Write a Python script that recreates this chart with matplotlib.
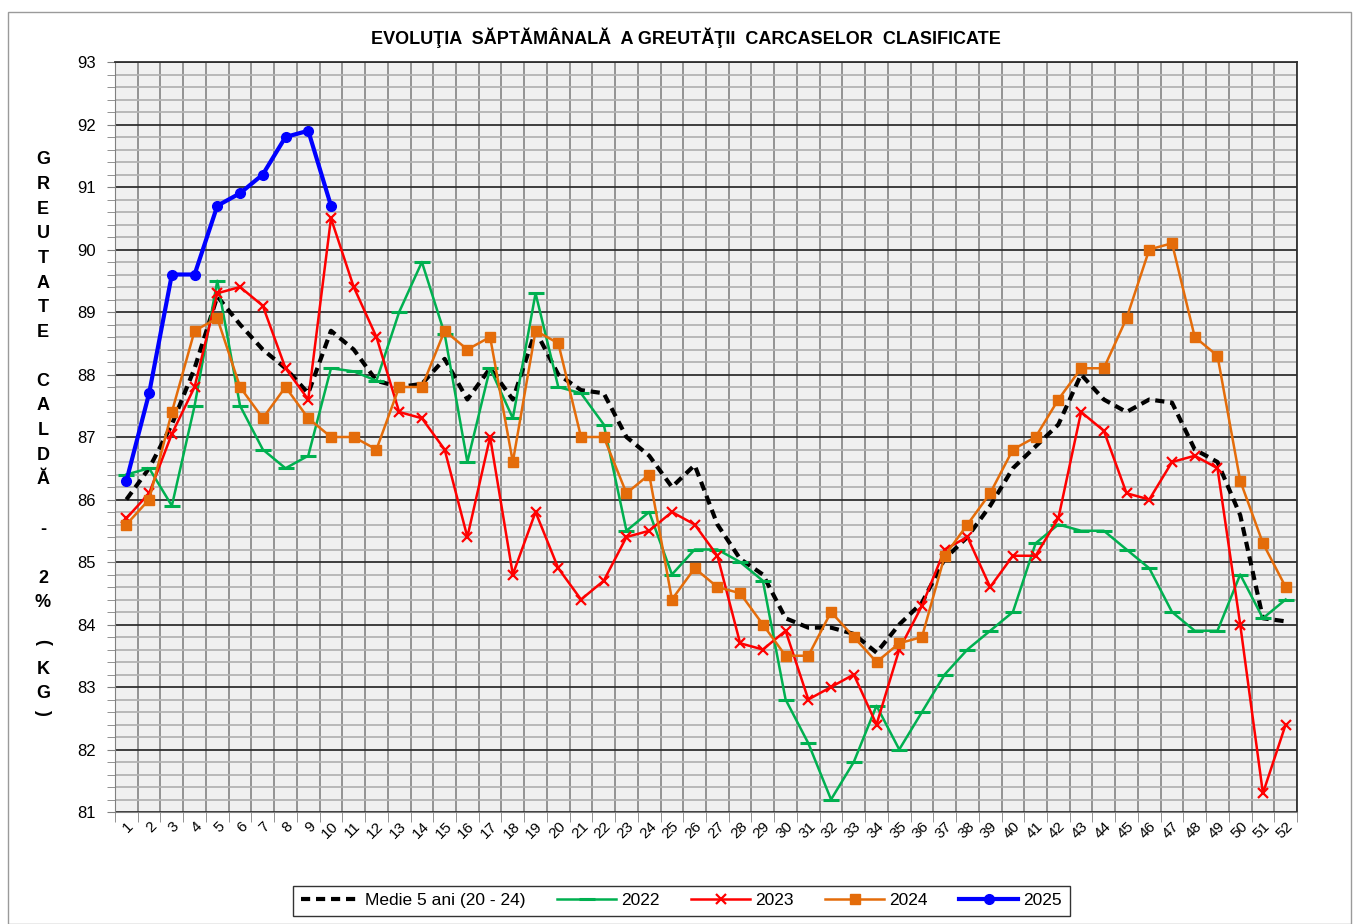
import matplotlib
matplotlib.use("Agg")
import matplotlib.pyplot as plt
from matplotlib.ticker import MultipleLocator, FixedLocator
from matplotlib.patches import Rectangle

plt.rcParams["font.family"] = ["Liberation Sans", "DejaVu Sans"]

# -- data --
weeks = list(range(1, 53))
medie = [86.0, 86.5, 87.2, 88.1, 89.25, 88.8, 88.4, 88.1, 87.7, 88.7,
         88.4, 87.9, 87.8, 87.85, 88.25, 87.6, 88.1, 87.6, 88.7, 88.0,
         87.75, 87.7, 87.0, 86.7, 86.2, 86.55, 85.6, 85.05, 84.8, 84.1,
         83.95, 83.95, 83.85, 83.55, 84.0, 84.35, 85.05, 85.4, 85.9, 86.5,
         86.85, 87.2, 88.0, 87.6, 87.4, 87.6, 87.55, 86.8, 86.6, 85.75,
         84.1, 84.05]
y2022 = [86.4, 86.5, 85.9, 87.5, 89.5, 87.5, 86.8, 86.5, 86.7, 88.1,
         88.05, 87.9, 89.0, 89.8, 88.65, 86.6, 88.1, 87.3, 89.3, 87.8,
         87.7, 87.2, 85.5, 85.8, 84.8, 85.2, 85.2, 85.0, 84.7, 82.8,
         82.1, 81.2, 81.8, 82.7, 82.0, 82.6, 83.2, 83.6, 83.9, 84.2,
         85.3, 85.6, 85.5, 85.5, 85.2, 84.9, 84.2, 83.9, 83.9, 84.8,
         84.1, 84.4]
y2023 = [85.7, 86.1, 87.05, 87.8, 89.3, 89.4, 89.1, 88.1, 87.6, 90.5,
         89.4, 88.6, 87.4, 87.3, 86.8, 85.4, 87.0, 84.8, 85.8, 84.9,
         84.4, 84.7, 85.4, 85.5, 85.8, 85.6, 85.1, 83.7, 83.6, 83.9,
         82.8, 83.0, 83.2, 82.4, 83.6, 84.3, 85.2, 85.4, 84.6, 85.1,
         85.1, 85.7, 87.4, 87.1, 86.1, 86.0, 86.6, 86.7, 86.5, 84.0,
         81.3, 82.4]
y2024 = [85.6, 86.0, 87.4, 88.7, 88.9, 87.8, 87.3, 87.8, 87.3, 87.0,
         87.0, 86.8, 87.8, 87.8, 88.7, 88.4, 88.6, 86.6, 88.7, 88.5,
         87.0, 87.0, 86.1, 86.4, 84.4, 84.9, 84.6, 84.5, 84.0, 83.5,
         83.5, 84.2, 83.8, 83.4, 83.7, 83.8, 85.1, 85.6, 86.1, 86.8,
         87.0, 87.6, 88.1, 88.1, 88.9, 90.0, 90.1, 88.6, 88.3, 86.3,
         85.3, 84.6]
y2025 = [86.3, 87.7, 89.6, 89.6, 90.7, 90.9, 91.2, 91.8, 91.9, 90.7]

labels = ["Medie 5 ani (20 - 24)", "2022", "2023", "2024", "2025"]
title = "EVOLUŢIA  SĂPTĂMÂNALĂ  A GREUTĂŢII  CARCASELOR  CLASIFICATE"
ylabel_letters = ["G", "R", "E", "U", "T", "A", "T", "E", "",
                  "C", "A", "L", "D", "Ă", "", "-", "", "2", "%"]

# -- figure --
fig = plt.figure(figsize=(13.63, 9.24), dpi=100)
fig.patches.append(Rectangle((0.006, 0.0), 0.985, 0.987, transform=fig.transFigure,
                             fill=False, edgecolor="#9a9a9a", linewidth=1))
ax = fig.add_axes([0.0844, 0.1212, 0.8672, 0.8117])
ax.set_facecolor("#f0f0f0")

ax.set_xlim(0.5, 52.5)
ax.set_ylim(81, 93)

# grid: minor gray, major black
ax.yaxis.set_major_locator(MultipleLocator(1))
ax.yaxis.set_minor_locator(MultipleLocator(0.2))
ax.xaxis.set_major_locator(FixedLocator(weeks))
ax.xaxis.set_minor_locator(FixedLocator([w + 0.5 for w in range(0, 53)]))
ax.grid(which="minor", axis="y", color="#b4b4b4", linewidth=1.3)
ax.grid(which="major", axis="y", color="#303030", linewidth=1.3)
ax.grid(which="minor", axis="x", color="#8c8c8c", linewidth=1.3)
ax.set_axisbelow(True)

ax.plot(weeks, medie, color="black", linestyle=(0, (2.2, 1.4)), linewidth=3, label=labels[0], zorder=3)
ax.plot(weeks, y2022, color="#00b050", marker="_", markersize=11, markeredgewidth=2.2,
        linewidth=1.8, label=labels[1], zorder=4)
ax.plot(weeks, y2023, color="#ff0000", marker="x", markersize=7, markeredgewidth=1.6,
        linewidth=1.8, label=labels[2], zorder=5)
ax.plot(weeks, y2024, color="#e46c0a", marker="s", markersize=7,
        linewidth=1.8, label=labels[3], zorder=6)
ax.plot(weeks[:len(y2025)], y2025, color="#0000ff", marker="o", markersize=7,
        linewidth=3, label=labels[4], zorder=7)

# ticks
ax.tick_params(axis="y", which="major", labelsize=12, length=6, color="#808080", pad=8)
ax.tick_params(axis="y", which="minor", length=6, color="#808080")
ax.tick_params(axis="x", which="major", length=0, labelsize=11, pad=5)
ax.tick_params(axis="x", which="minor", length=7, color="#808080")
ax.set_xticklabels([str(w) for w in weeks], rotation=45, ha="right", rotation_mode="anchor")

for side in ["top", "right"]:
    ax.spines[side].set_color("#303030")
    ax.spines[side].set_linewidth(1.3)
ax.spines["left"].set_color("#808080")
ax.spines["bottom"].set_color("#808080")

fig.text(0.503, 0.959, title, ha="center", va="center", fontsize=13, fontweight="bold")

# stacked vertical y label
y0 = 1 - 160 / 924
step = 24.6 / 924
for i, ch in enumerate(ylabel_letters):
    if ch:
        fig.text(0.0315, y0 - i * step, ch, ha="center", va="center", fontsize=13, fontweight="bold")
fig.text(0.0315, 1 - 642 / 924, "(", ha="center", va="center", fontsize=13, fontweight="bold", rotation=-90)
fig.text(0.0315, 1 - 670 / 924, "K", ha="center", va="center", fontsize=13, fontweight="bold")
fig.text(0.0315, 1 - 693 / 924, "G", ha="center", va="center", fontsize=13, fontweight="bold")
fig.text(0.0315, 1 - 712 / 924, ")", ha="center", va="center", fontsize=13, fontweight="bold", rotation=-90)

leg = fig.legend(loc="center", bbox_to_anchor=(0.5, 0.025), ncol=5, fontsize=12.5, frameon=True,
                 fancybox=False, edgecolor="black", handlelength=3.4, columnspacing=1.8,
                 handletextpad=0.3, borderpad=0.45)
leg.get_frame().set_linewidth(1.0)

fig.savefig("out.png", dpi=100)
